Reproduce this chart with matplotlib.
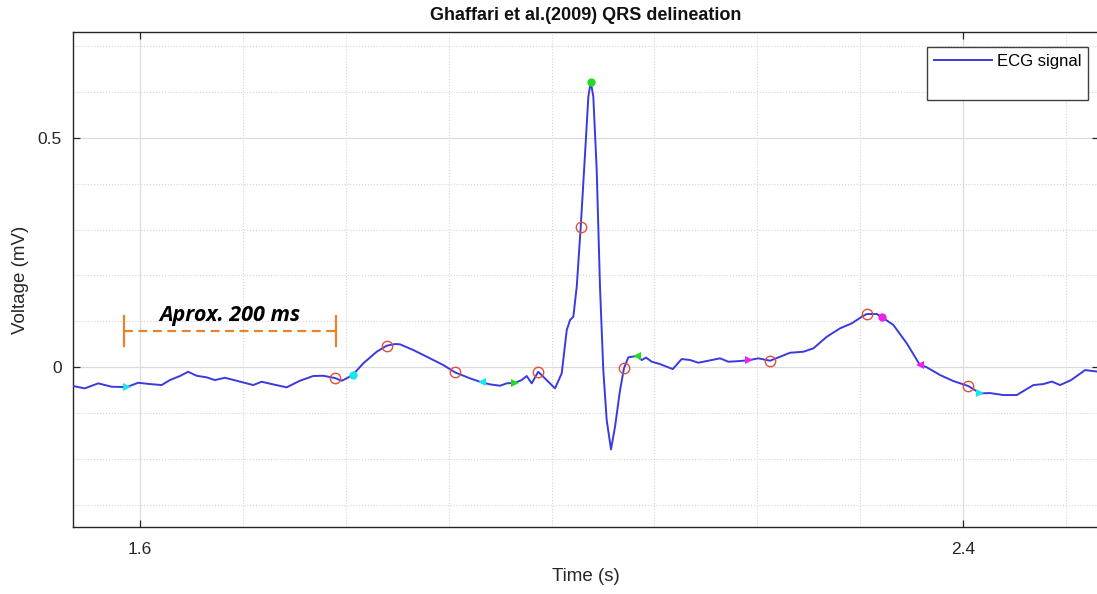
import matplotlib.pyplot as plt
from matplotlib.lines import Line2D
from matplotlib.ticker import MultipleLocator

# ECG trace (time in s, voltage in mV)
time = [1.5352, 1.5465, 1.5595, 1.5725, 1.5874, 1.5983, 1.6097, 1.6211, 1.6292, 1.6389,
        1.6469, 1.6551, 1.6648, 1.6729, 1.6826, 1.6940, 1.7101, 1.7183, 1.7280, 1.7426,
        1.7555, 1.7684, 1.7782, 1.7895, 1.7961, 1.8009, 1.8067, 1.8171, 1.8301, 1.8398,
        1.8479, 1.8527, 1.8657, 1.8819, 1.8948, 1.9062, 1.9208, 1.9321, 1.9402, 1.9499,
        1.9564, 1.9645, 1.9710, 1.9759, 1.9807, 1.9871, 1.9937, 2.0034, 2.0099, 2.0148,
        2.0180, 2.0212, 2.0245, 2.0284, 2.0326, 2.0358, 2.0381, 2.0406, 2.0439, 2.0471,
        2.0503, 2.0536, 2.0578, 2.0617, 2.0666, 2.0704, 2.0746, 2.0828, 2.0877, 2.0918,
        2.0974, 2.1054, 2.1119, 2.1178, 2.1265, 2.1346, 2.1427, 2.1524, 2.1638, 2.1718,
        2.1832, 2.1922, 2.2010, 2.2124, 2.2221, 2.2318, 2.2447, 2.2545, 2.2675, 2.2804,
        2.2918, 2.3015, 2.3063, 2.3161, 2.3209, 2.3322, 2.3452, 2.3577, 2.3647, 2.3776,
        2.3905, 2.4051, 2.4165, 2.4262, 2.4391, 2.4521, 2.4683, 2.4780, 2.4862, 2.4942,
        2.5049, 2.5185, 2.5299]
voltage = [-0.0415, -0.0465, -0.0356, -0.0430, -0.0437, -0.0343, -0.0371, -0.0393, -0.0284, -0.0196,
           -0.0103, -0.0190, -0.0225, -0.0284, -0.0234, -0.0299, -0.0393, -0.0321, -0.0371, -0.0443,
           -0.0299, -0.0196, -0.0190, -0.0240, -0.0299, -0.0247, -0.0175, 0.0081, 0.0334, 0.0465,
           0.0502, 0.0496, 0.0371, 0.0190, 0.0044, -0.0116, -0.0247, -0.0334, -0.0378, -0.0408,
           -0.0356, -0.0343, -0.0284, -0.0196, -0.0356, -0.0103, -0.0250, -0.0465, -0.0138, 0.0808,
           0.1026, 0.1098, 0.1753, 0.3063, 0.4665, 0.5901, 0.6228, 0.5901, 0.4300, 0.1753,
           -0.0066, -0.1157, -0.1797, -0.1303, -0.0502, -0.0028, 0.0212, 0.0240, 0.0153, 0.0207,
           0.0116, 0.0065, 0.0007, -0.0044, 0.0175, 0.0153, 0.0094, 0.0138, 0.0190, 0.0116,
           0.0131, 0.0153, 0.0190, 0.0138, 0.0225, 0.0312, 0.0334, 0.0408, 0.0661, 0.0845,
           0.0954, 0.1098, 0.1157, 0.1157, 0.1092, 0.0917, 0.0517, 0.0055, -0.0007, -0.0175,
           -0.0306, -0.0415, -0.0574, -0.0568, -0.0611, -0.0611, -0.0393, -0.0371, -0.0317, -0.0393,
           -0.0284, -0.0066, -0.0098]

# red open circles
red_t = [1.7895, 1.8398, 1.9062, 1.9871, 2.0284, 2.0704, 2.2124, 2.3063, 2.4051]
red_v = [-0.0240, 0.0465, -0.0116, -0.0103, 0.3063, -0.0028, 0.0138, 0.1157, -0.0415]

# P wave marks (cyan), QRS marks (green), T wave marks (magenta)
p_t = [1.5874, 1.8067, 1.9321, 2.4165]
p_v = [-0.0437, -0.0175, -0.0334, -0.0574]
p_m = ['>', 'o', '<', '>']
qrs_t = [1.9645, 2.0381, 2.0828]
qrs_v = [-0.0343, 0.6228, 0.0240]
qrs_m = ['>', 'o', '<']
t_t = [2.1922, 2.3209, 2.3577]
t_v = [0.0153, 0.1092, 0.0055]
t_m = ['>', 'o', '<']

# "Aprox. 200 ms" bracket
span_t = [1.5845, 1.7905]
span_v = 0.0786
bar_v = [0.0458, 0.1113]

plt.rcParams['font.family'] = ['Liberation Sans', 'DejaVu Sans']

fig = plt.figure(figsize=(10.97, 5.94), dpi=100)
ax = fig.add_axes([73 / 1097, 1 - 527 / 594, 1026 / 1097, 495 / 594])

ax.plot(time, voltage, color='#3a3ae0', lw=1.4, label='ECG signal', zorder=3,
        solid_joinstyle='round')
ax.plot(red_t, red_v, 'o', mfc='none', mec='#e0503c', ms=7.5, mew=1, zorder=4)
for ts, vs, ms, col in [(p_t, p_v, p_m, '#19e6e6'), (qrs_t, qrs_v, qrs_m, '#22dd22'),
                        (t_t, t_v, t_m, '#ee22ee')]:
    for tt, vv, mm in zip(ts, vs, ms):
        ax.plot(tt, vv, marker=mm, color=col, ms=6, mew=0, zorder=5)

orange = '#e8822e'
ax.plot(span_t, [span_v, span_v], ls=(0, (4, 2.5)), color=orange, lw=1.6, zorder=3)
for st in span_t:
    ax.plot([st, st], bar_v, color=orange, lw=1.6, zorder=3)
ax.text(sum(span_t) / 2, 0.112, 'Aprox. 200 ms', ha='center', va='center',
        fontsize=15.5, fontweight='bold', style='italic', family=['Open Sans', 'DejaVu Sans'])

ax.set_xlim(1.535, 2.532)
ax.set_ylim(-0.349, 0.731)
ax.xaxis.set_minor_locator(MultipleLocator(0.1))
ax.yaxis.set_minor_locator(MultipleLocator(0.1))
ax.set_xticks([1.6, 2.4])
ax.set_xticklabels(['1.6', '2.4'])
ax.set_yticks([0, 0.5])
ax.set_yticklabels(['0', '0.5'])
ax.tick_params(which='major', direction='in', length=5, width=0.9, top=True, right=True,
               labelsize=12.5, colors='#262626', pad=11)
ax.tick_params(axis='y', pad=8)
ax.tick_params(which='minor', length=0)
ax.grid(which='major', color='#dcdcdc', lw=0.9, ls='-')
ax.grid(which='minor', color='#d4d4d4', lw=0.8, ls=':')
ax.set_axisbelow(True)
for sp in ax.spines.values():
    sp.set_color('#262626')
    sp.set_linewidth(1.0)

ax.set_xlabel('Time (s)', fontsize=13.5, color='#262626', labelpad=8)
ax.set_ylabel('Voltage (mV)', fontsize=13.5, color='#262626', labelpad=6)
ax.set_title('Ghaffari et al.(2009) QRS delineation', fontsize=13, fontweight='bold',
             color='#111111', pad=9)

ecg_line = ax.get_lines()[0]
leg = ax.legend([ecg_line, Line2D([], [], color='none')], ['ECG signal', ' '],
                loc='upper right', bbox_to_anchor=(1088 / 1097, 1 - 47 / 594),
                bbox_transform=fig.transFigure, borderaxespad=0, fontsize=12,
                handlelength=3.5, handletextpad=0.3, labelspacing=0.6,
                fancybox=False, framealpha=1, edgecolor='#404040', borderpad=0.4)
leg.get_frame().set_linewidth(1.0)

fig.savefig('out.png', dpi=100)
